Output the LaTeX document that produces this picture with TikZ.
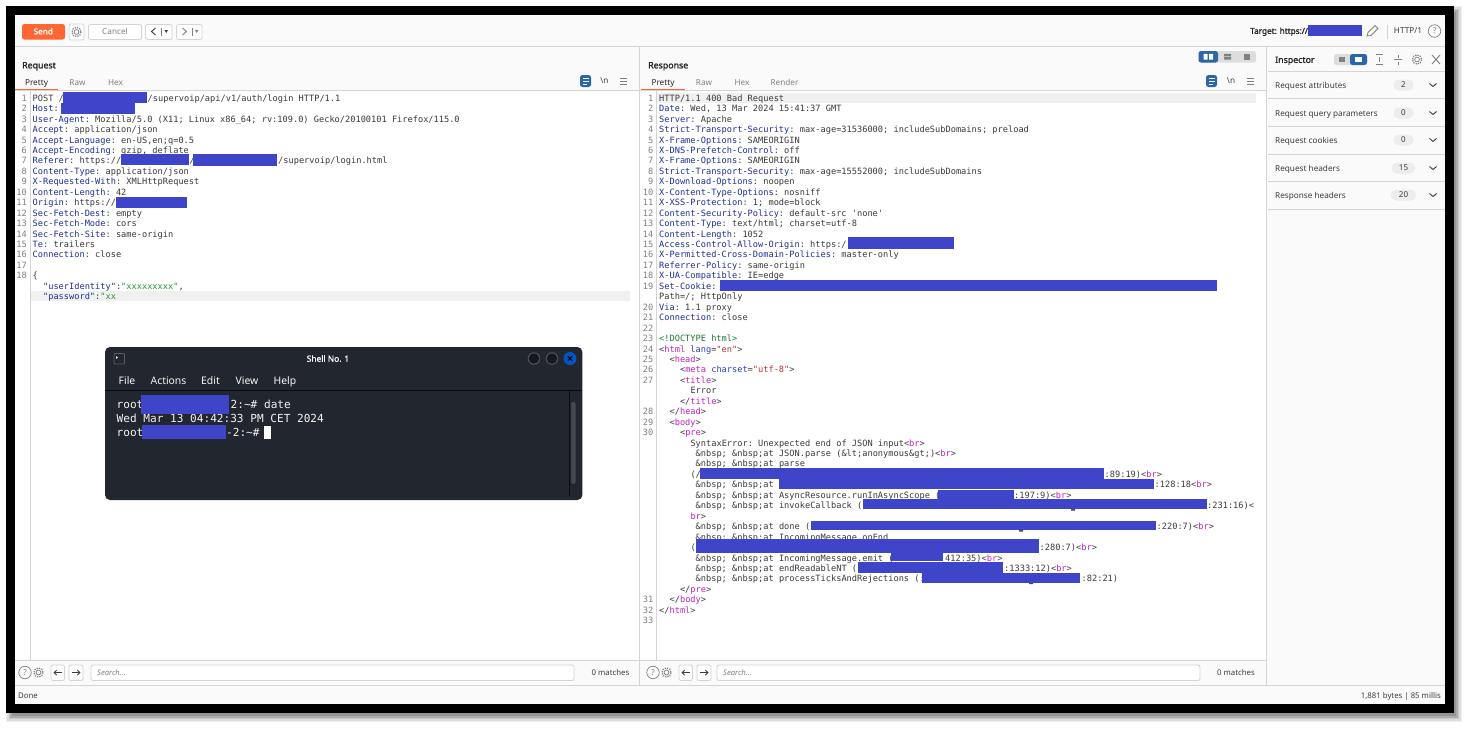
\documentclass[tikz,border=0pt]{standalone}
\usepackage{fontspec}
\setmainfont{Noto Sans}
\newfontfamily\codefont{DejaVu Sans Mono}
\newfontfamily\uibold[FakeBold=1.6]{Noto Sans}
\definecolor{redact}{HTML}{3E45C9}
\definecolor{keyblue}{HTML}{1F2F9A}
\definecolor{codetxt}{HTML}{3A3A3A}
\definecolor{numgray}{HTML}{808080}
\definecolor{tagpink}{HTML}{C020C0}
\definecolor{attblue}{HTML}{2A3FC8}
\definecolor{attred}{HTML}{C03030}
\definecolor{strgreen}{HTML}{1F9A2F}
\definecolor{docgreen}{HTML}{1F7A2F}
\definecolor{linegray}{HTML}{D4D4D4}
\definecolor{appbg}{HTML}{FAFAFA}
\definecolor{hilite}{HTML}{F0F0F0}
\definecolor{sendor}{HTML}{FF6633}
\definecolor{uiblue}{HTML}{2A66A8}
\definecolor{termbg}{HTML}{22262F}
\definecolor{uitxt}{HTML}{3C3C3C}
\definecolor{pillbg}{HTML}{EDEDED}
\newcounter{tn}
\newcommand\hk[1]{\textcolor{keyblue}{#1}}
\newcommand\tg[1]{\textcolor{tagpink}{#1}}
\newcommand\an[1]{\textcolor{attblue}{#1}}
\newcommand\av[1]{\textcolor{attred}{#1}}
\newcommand\gs[1]{\textcolor{strgreen}{#1}}
\newcommand\brk{<\tg{br}>}
\newcommand\nb{\&nbsp; \&nbsp;at }
\newcommand\coderow[6]{%
  \stepcounter{tn}\node[codetxt style] (c\thetn) at ({#1+5.21*#5},{101.2+10.45*#3}) {#6};
  \stepcounter{tn}\node[codenum style] (n\thetn) at (#2,{101.2+10.45*#3}) {#4};}
\newcommand\RQ[4]{\coderow{32.5}{27}{#1}{#2}{#3}{#4}}
\newcommand\RS[4]{\coderow{659}{653.5}{#1}{#2}{#3}{#4}}
\newcommand\FR[3]{\stepcounter{tn}\node[codetxt style] (f\thetn) at (#1,{101.2+10.45*#2}) {#3};}
\newcommand\BAR[4]{\fill[redact] (#1,#3) rectangle (#2,#4);}
\newcommand\UI[4][]{\stepcounter{tn}\node[ui style,#1] (u\thetn) at (#2,#3) {#4};}
\newcommand\GEAR[2]{\draw[gray,line width=.7] (#1,#2) circle (2.4);\draw[gray,line width=1.2,dash pattern=on 1.3 off 1.1] (#1,#2) circle (4.6);}
\newcommand\HELP[2]{\stepcounter{tn}\node[draw=gray,circle,line width=.7,minimum size=12.5,inner sep=0,text=gray,font=\fontsize{8}{8}\selectfont] (h\thetn) at (#1,#2) {?};}
\newcommand\BOXB[4]{\draw[linegray,fill=white,rounded corners=2,line width=.8] (#1,#3) rectangle (#2,#4);}
\newcommand\MENU[2]{\draw[gray,line width=.9] (#1-3.5,#2-3) -- ++(7,0) (#1-3.5,#2) -- ++(7,0) (#1-3.5,#2+3) -- ++(7,0);}
\newcommand\WRAPI[2]{\fill[uiblue,rounded corners=2.5] (#1-5.5,#2-6) rectangle (#1+5.5,#2+6);\draw[white,line width=.8] (#1-3,#2-3) -- ++(6,0) (#1-3,#2) -- ++(6,0) (#1-3,#2+3) -- ++(4,0);}
\newcommand\INSP[4]{%
  \UI[anchor=mid west,text=uitxt]{1275}{#1}{#2}
  \stepcounter{tn}\node[fill=pillbg,rounded corners=5,minimum height=11,minimum width=#4,inner sep=0,text=uitxt,font=\fontsize{8}{8}\selectfont] (b\thetn) at (1403.5,#1) {#3};
  \draw[uitxt,line width=.9] (1429.5,#1-1.5) -- (1433,#1+1.5) -- (1436.5,#1-1.5);}
\newcommand\NAV[1]{%
  \GEAR{#1+13.5}{672.5}\HELP{#1}{672.5}
  \BOXB{#1+26}{#1+39.5}{665}{680.5}\BOXB{#1+44}{#1+58}{665}{680.5}
  \draw[uitxt,line width=.9,-{Straight Barb[length=2.5,width=5]}] (#1+37,672.7) -- (#1+28.5,672.7);
  \draw[uitxt,line width=.9,-{Straight Barb[length=2.5,width=5]}] (#1+46.5,672.7) -- (#1+55.5,672.7);}
\usetikzlibrary{arrows.meta}
\tikzset{
  x=1pt,y=-1pt,
  codetxt style/.style={anchor=base west,inner sep=0,text=codetxt,font=\codefont\frenchspacing\fontsize{8.65}{8.65}\selectfont},
  codenum style/.style={anchor=base east,inner sep=0,text=numgray,font=\codefont\fontsize{8.65}{8.65}\selectfont},
  ui style/.style={anchor=mid,yshift=-.7pt,inner sep=0,text=uitxt,font=\fontsize{8.2}{8.2}\selectfont},
  term style/.style={anchor=base west,inner sep=0,text=white!90!gray,font=\codefont\frenchspacing\fontsize{11.1}{11.1}\selectfont},
  menu style/.style={anchor=mid,yshift=-1.5pt,inner sep=0,text=white!92!gray,font=\fontsize{10.4}{10.4}\selectfont},
  head style/.style={text=black!85,font=\uibold\fontsize{8.8}{8.8}\selectfont},
  sep/.style={linegray,line width=.9},
}
\begin{document}
\begin{tikzpicture}
\useasboundingbox (0,0) rectangle (1473,732);
\fill[white] (0,0) rectangle (1473,732);
% shadow
\foreach \d/\o in {7.5/.06,6/.08,4.5/.1,3/.12,1.5/.14}{
  \fill[black,opacity=\o] (13-\d,13-\d) rectangle (1454.5+\d,714.5+\d);}
% frame and window
\fill[black] (6,6) rectangle (1453.5,713);
\fill[appbg] (15,15) rectangle (1445,704);
\fill[white] (15,91) rectangle (1265.5,660);
% toolbar
\draw[sep] (15,46.5) -- (1445,46.5);
\fill[sendor,rounded corners=2.5] (22,24) rectangle (65,39.5);
\UI[text=white,font=\uibold\fontsize{8.2}{8.2}\selectfont]{43.3}{31}{Send}
\BOXB{69}{84}{24}{40}\GEAR{76.5}{32}
\BOXB{88.5}{141.5}{24.5}{39.5}
\UI[text=gray]{115}{31}{Cancel}
\BOXB{145.5}{172}{24.5}{39.5}
\draw[uitxt,line width=.9] (155.5,28) -- (151.5,31.5) -- (155.5,35);
\draw[gray,line width=.5] (161.5,27.5) -- (161.5,36);
\fill[uitxt] (164.5,30) -- (168,30) -- (166.25,33) -- cycle;
\BOXB{176.5}{202}{24.5}{39.5}
\draw[gray,line width=.9] (182.5,28) -- (186.5,31.5) -- (182.5,35);
\draw[gray,line width=.5] (192,27.5) -- (192,36);
\fill[gray] (195,30) -- (198.5,30) -- (196.75,33) -- cycle;
\UI[anchor=mid west,head style,font=\uibold\fontsize{8.2}{8.2}\selectfont]{1250}{30.5}{Target: https://}
\UI{1408}{30.5}{HTTP/1}
\HELP{1434.5}{31}
\draw[gray,line width=.8] (1367,36) -- (1368,32.5) -- (1375,25.5) -- (1378,28.5) -- (1371,35.5) -- cycle;
\draw[sep] (1387,25) -- (1387,39);
% panel separators
\draw[sep] (639,46.5) -- (639,685.5);
\draw[sep] (1266,46.5) -- (1266,685.5);
\draw[sep] (15,660) -- (1265.5,660);
\draw[sep] (15,685.5) -- (1445,685.5);
% headings and tabs
\UI[anchor=mid west,head style]{22}{65}{Request}
\UI[anchor=mid west,head style]{648}{65}{Response}
\UI[text=black!85]{36.5}{82}{Pretty}
\UI[text=gray]{77.5}{82}{Raw}
\UI[text=gray]{115.5}{82}{Hex}
\UI[text=black!85]{663}{82}{Pretty}
\UI[text=gray]{704}{82}{Raw}
\UI[text=gray]{742}{82}{Hex}
\UI[text=gray]{784.5}{82}{Render}
\draw[sep] (15,90.5) -- (638.5,90.5) (640,90.5) -- (1265.5,90.5);
\draw[sendor,line width=1] (15,89.6) -- (58,89.6);
\draw[sendor,line width=1] (641,89.6) -- (684.5,89.6);
\WRAPI{585.5}{81}
\UI{604.5}{80}{\textbackslash n}
\MENU{623.5}{81}
\WRAPI{1211.5}{81}
\UI{1231}{80}{\textbackslash n}
\MENU{1250}{81}
% layout switch
\fill[pillbg!85!gray,rounded corners=2.5] (1198.5,51) rectangle (1256,62.5);
\fill[uiblue,rounded corners=2.5] (1198.5,51) rectangle (1218,62.5);
\fill[white] (1203.5,53.8) rectangle (1207.7,59.7) (1209,53.8) rectangle (1213.2,59.7);
\fill[gray] (1224,53.8) rectangle (1231,56.3) (1224,57.2) rectangle (1231,59.7);
\fill[gray] (1243.5,53.8) rectangle (1250,59.7);
% gutters and highlighted lines
\draw[linegray,line width=.7] (30.5,91) -- (30.5,660);
\draw[linegray,line width=.7] (656.5,91) -- (656.5,660);
\fill[hilite] (31,291.3) rectangle (630,301.2);
\fill[hilite] (657,93) rectangle (1256,103);
% request text
\RQ{0}{1}{0}{POST /}
\FR{147.5}{0}{/supervoip/api/v1/auth/login HTTP/1.1}
\RQ{1}{2}{0}{\hk{Host}: }
\RQ{2}{3}{0}{\hk{User-Agent}: Mozilla/5.0 (X11; Linux x86\_64; rv:109.0) Gecko/20100101 Firefox/115.0}
\RQ{3}{4}{0}{\hk{Accept}: application/json}
\RQ{4}{5}{0}{\hk{Accept-Language}: en-US,en;q=0.5}
\RQ{5}{6}{0}{\hk{Accept-Encoding}: gzip, deflate}
\RQ{6}{7}{0}{\hk{Referer}: https://}
\FR{189.5}{6}{/}
\FR{278}{6}{/supervoip/login.html}
\RQ{7}{8}{0}{\hk{Content-Type}: application/json}
\RQ{8}{9}{0}{\hk{X-Requested-With}: XMLHttpRequest}
\RQ{9}{10}{0}{\hk{Content-Length}: 42}
\RQ{10}{11}{0}{\hk{Origin}: https://}
\RQ{11}{12}{0}{\hk{Sec-Fetch-Dest}: empty}
\RQ{12}{13}{0}{\hk{Sec-Fetch-Mode}: cors}
\RQ{13}{14}{0}{\hk{Sec-Fetch-Site}: same-origin}
\RQ{14}{15}{0}{\hk{Te}: trailers}
\RQ{15}{16}{0}{\hk{Connection}: close}
\RQ{16}{17}{0}{}
\RQ{17}{18}{0}{\{}
\FR{42.9}{18}{\hk{"userIdentity"}:\gs{"xxxxxxxxx"},}
\FR{42.9}{19}{\hk{"password"}:\gs{"xx}}
% response text
\RS{0}{1}{0}{HTTP/1.1 400 Bad Request}
\RS{1}{2}{0}{\hk{Date}: Wed, 13 Mar 2024 15:41:37 GMT}
\RS{2}{3}{0}{\hk{Server}: Apache}
\RS{3}{4}{0}{\hk{Strict-Transport-Security}: max-age=31536000; includeSubDomains; preload}
\RS{4}{5}{0}{\hk{X-Frame-Options}: SAMEORIGIN}
\RS{5}{6}{0}{\hk{X-DNS-Prefetch-Control}: off}
\RS{6}{7}{0}{\hk{X-Frame-Options}: SAMEORIGIN}
\RS{7}{8}{0}{\hk{Strict-Transport-Security}: max-age=15552000; includeSubDomains}
\RS{8}{9}{0}{\hk{X-Download-Options}: noopen}
\RS{9}{10}{0}{\hk{X-Content-Type-Options}: nosniff}
\RS{10}{11}{0}{\hk{X-XSS-Protection}: 1; mode=block}
\RS{11}{12}{0}{\hk{Content-Security-Policy}: default-src 'none'}
\RS{12}{13}{0}{\hk{Content-Type}: text/html; charset=utf-8}
\RS{13}{14}{0}{\hk{Content-Length}: 1052}
\RS{14}{15}{0}{\hk{Access-Control-Allow-Origin}: https:/}
\RS{15}{16}{0}{\hk{X-Permitted-Cross-Domain-Policies}: master-only}
\RS{16}{17}{0}{\hk{Referrer-Policy}: same-origin}
\RS{17}{18}{0}{\hk{X-UA-Compatible}: IE=edge}
\RS{18}{19}{0}{\hk{Set-Cookie}: }
\FR{659}{19}{Path=/; HttpOnly}
\RS{20}{20}{0}{\hk{Via}: 1.1 proxy}
\RS{21}{21}{0}{\hk{Connection}: close}
\RS{22}{22}{0}{}
\RS{23}{23}{0}{\textcolor{docgreen}{<!DOCTYPE html>}}
\RS{24}{24}{0}{<\tg{html} \an{lang}=\av{"en"}>}
\RS{25}{25}{2}{<\tg{head}>}
\RS{26}{26}{4}{<\tg{meta} \an{charset}=\av{"utf-8"}>}
\RS{27}{27}{4}{<\tg{title}>}
\FR{690.3}{28}{Error}
\FR{679.8}{29}{</\tg{title}>}
\RS{30}{28}{2}{</\tg{head}>}
\RS{31}{29}{2}{<\tg{body}>}
\RS{32}{30}{4}{<\tg{pre}>}
\FR{690.3}{33}{SyntaxError: Unexpected end of JSON input\brk}
\FR{695.5}{34}{\nb JSON.parse (\&lt;anonymous\&gt;)\brk}
\FR{695.5}{35}{\nb parse}
\FR{690.3}{36}{(/}
\FR{1104.5}{36}{:89:19)\brk}
\FR{695.5}{37}{\nb}
\FR{1154.5}{37}{:128:18\brk}
\FR{695.5}{38}{\nb AsyncResource.runInAsyncScope (}
\FR{1014}{38}{:197:9)\brk}
\FR{695.5}{39}{\nb invokeCallback (}
\FR{1207}{39}{:231:16)<}
\FR{690.3}{40}{\tg{br}>}
\FR{695.5}{41}{\nb done (}
\FR{1156.5}{41}{:220:7)\brk}
\FR{695.5}{42}{\nb IncomingMessage.onEnd}
\FR{690.3}{43}{(}
\FR{1039.5}{43}{:280:7)\brk}
\FR{695.5}{44}{\nb IncomingMessage.emit (}
\FR{945}{44}{412:35)\brk}
\FR{695.5}{45}{\nb endReadableNT (}
\FR{1004}{45}{:1333:12)\brk}
\FR{695.5}{46}{\nb processTicksAndRejections (:}
\FR{1081.5}{46}{:82:21)}
\FR{679.8}{47}{</\tg{pre}>}
\RS{48}{31}{2}{</\tg{body}>}
\RS{49}{32}{0}{</\tg{html}>}
\RS{50}{33}{0}{}
% redactions
\fill[black!70] (1071,509) rectangle (1075,510.5) (1019,530) rectangle (1023,531.5) (1029,582.5) rectangle (1033,584);
\BAR{63.3}{147}{92}{103}
\BAR{60.7}{135}{103}{113.5}
\BAR{121}{189}{154}{165}
\BAR{193}{277}{154}{166}
\BAR{116}{187}{197}{207.7}
\BAR{848}{954}{236.7}{249}
\BAR{719.6}{1217}{279.7}{290.7}
\BAR{699.6}{1103.7}{468.3}{479.3}
\BAR{778.8}{1153.5}{479.3}{488.7}
\BAR{938}{1013.5}{490}{499}
\BAR{863}{1206.5}{499}{509.3}
\BAR{811.4}{1156}{520.7}{530.3}
\BAR{696}{1038.8}{539}{553.3}
\BAR{891}{943}{553.3}{561.3}
\BAR{857.5}{1003}{562.3}{572.7}
\BAR{921.6}{1080.4}{573.3}{582.7}
\BAR{1308}{1362}{25}{36}
% bottom search bars
\NAV{25}
\NAV{653}
\BOXB{91}{574}{665}{680.5}
\BOXB{717}{1200}{665}{680.5}
\UI[anchor=mid west,text=gray,font=\itshape\fontsize{7.6}{7.6}\selectfont]{97}{672.5}{Search...}
\UI[anchor=mid west,text=gray,font=\itshape\fontsize{7.6}{7.6}\selectfont]{723}{672.5}{Search...}
\UI[anchor=mid east,font=\fontsize{7.8}{7.8}\selectfont]{629.5}{672.5}{0 matches}
\UI[anchor=mid east,font=\fontsize{7.8}{7.8}\selectfont]{1255}{672.5}{0 matches}
\UI[anchor=mid west,font=\fontsize{7.8}{7.8}\selectfont]{18}{695}{Done}
\UI[anchor=mid east,font=\fontsize{7.8}{7.8}\selectfont]{1441}{695}{1,881 bytes | 85 millis}
% inspector
\UI[anchor=mid west,head style]{1275}{59.5}{Inspector}
\fill[pillbg!85!gray,rounded corners=2.5] (1334,54) rectangle (1367,65);
\fill[uiblue,rounded corners=2.5] (1350,54) rectangle (1367,65);
\fill[gray] (1339,57) rectangle (1345,62);
\fill[white] (1355,57) rectangle (1362,62);
\draw[gray,line width=.6] (1376,54.5) -- ++(7,0) (1376,64.5) -- ++(7,0) (1379.5,57) -- (1379.5,62);
\draw[gray,line width=.6] (1394,59.5) -- ++(8,0) (1398,54.5) -- (1398,57.5) (1398,61.5) -- (1398,64.5);
\GEAR{1417}{59.5}
\draw[gray,line width=.9] (1432,55) -- (1440,64) (1440,55) -- (1432,64);
\foreach \yy in {71.5,98.8,126.5,154,181.5,209.5}{\draw[sep] (1268,\yy) -- (1445,\yy);}
\INSP{85}{Request attributes}{2}{20}
\INSP{113}{Request query parameters}{0}{20}
\INSP{140}{Request cookies}{0}{20}
\INSP{168}{Request headers}{15}{23}
\INSP{195}{Response headers}{20}{25}
% terminal window
\fill[termbg,rounded corners=5] (105,347) rectangle (582.4,500);
\draw[black!70!termbg,line width=.5] (105,390.5) -- (582.4,390.5);
\draw[gray!60!termbg,line width=.8,rounded corners=1] (114,353.5) rectangle (124.5,364);
\fill[white!80!gray] (116,356) -- (118,357.5) -- (116,359) -- cycle;
\stepcounter{tn}\node[menu style,font=\uibold\fontsize{8.4}{8.4}\selectfont] (s\thetn) at (328,357.5) {Shell No. 1};
\fill[gray!45!termbg] (534,358.5) circle (6.3) (552,358.5) circle (6.3);
\fill[termbg!60!black] (534,358.5) circle (5.2) (552,358.5) circle (5.2);
\fill[blue!55!cyan!75!black] (570,358.5) circle (6.5);
\draw[black,line width=1] (567.8,356.3) -- (572.2,360.7) (572.2,356.3) -- (567.8,360.7);
\stepcounter{tn}\node[menu style] (m\thetn) at (127,380) {File};
\stepcounter{tn}\node[menu style] (m\thetn) at (168.5,380) {Actions};
\stepcounter{tn}\node[menu style] (m\thetn) at (210.5,380) {Edit};
\stepcounter{tn}\node[menu style] (m\thetn) at (247,380) {View};
\stepcounter{tn}\node[menu style] (m\thetn) at (285,380) {Help};
\stepcounter{tn}\node[term style] (t\thetn) at (116.5,408) {root};
\stepcounter{tn}\node[term style] (t\thetn) at (230.5,408) {2:\textasciitilde\# date};
\stepcounter{tn}\node[term style] (t\thetn) at (116.5,422) {Wed Mar 13 04:42:33 PM CET 2024};
\stepcounter{tn}\node[term style] (t\thetn) at (116.5,436.2) {root};
\stepcounter{tn}\node[term style] (t\thetn) at (226,436.2) {-2:\textasciitilde\#};
\fill[white] (264,426.3) rectangle (270.8,439);
\fill[redact] (140.8,395) rectangle (229.4,414);
\fill[redact] (142.4,425) rectangle (225.7,439);
\draw[black!60!termbg,line width=.4] (569.5,390.5) -- (569.5,496);
\fill[gray!40!termbg,rounded corners=2] (571.3,402) rectangle (575.5,484);
\end{tikzpicture}
\end{document}
